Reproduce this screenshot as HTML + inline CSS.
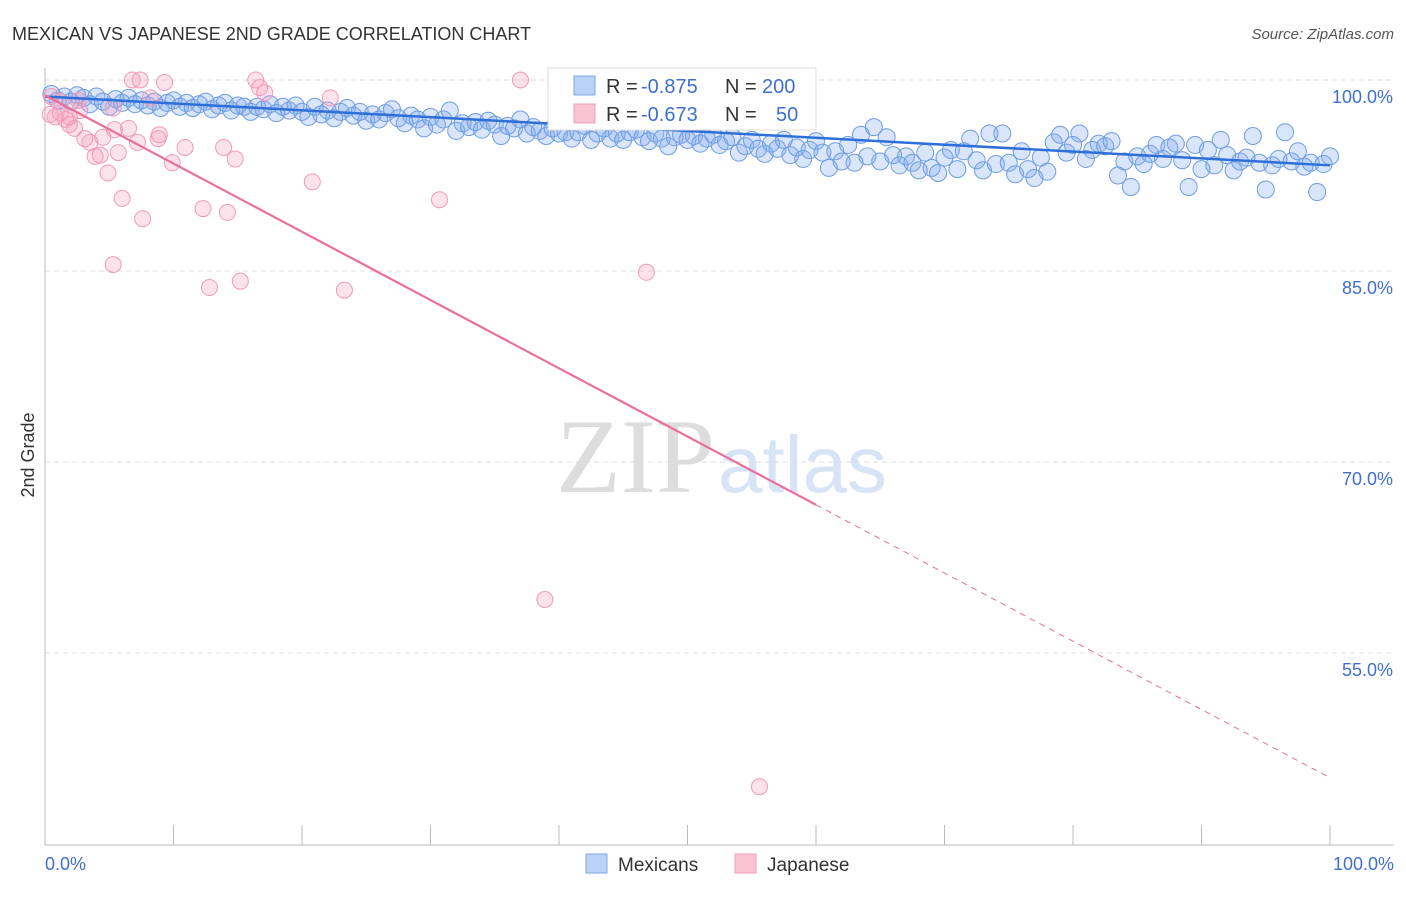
<!DOCTYPE html>
<html><head><meta charset="utf-8"><style>
body{margin:0;background:#fff;font-family:"Liberation Sans",sans-serif}
svg text{font-family:"Liberation Sans",sans-serif}
</style></head><body>
<svg id="chart" width="1406" height="892">
<text x="12" y="40" font-size="18" fill="#333">MEXICAN VS JAPANESE 2ND GRADE CORRELATION CHART</text>
<text x="1394" y="39" font-size="15" fill="#555" font-style="italic" text-anchor="end">Source: ZipAtlas.com</text>
<text x="715" y="492" font-size="106" fill="#ddd" font-family="Liberation Serif" text-anchor="end" style="font-family:'Liberation Serif',serif">ZIP</text>
<text x="718" y="492" font-size="80" fill="#d6e4f5">atlas</text>
<text x="34" y="455" font-size="18" fill="#333" transform="rotate(-90 34 455)" text-anchor="middle">2nd Grade</text>
<g id="grid"></g><g id="axes"></g><g id="pts"></g><g id="lines"></g>
<g>
<rect x="548" y="68" width="268" height="62" fill="#fff" stroke="#ddd"/>
<rect x="574" y="76" width="21" height="19" fill="#b9d2f5" stroke="#7fa8e6"/>
<rect x="574" y="104" width="21" height="19" fill="#f9c3d3" stroke="#f0a0bb"/>
<text x="606" y="93" font-size="20" fill="#333">R =</text>
<text x="641" y="93" font-size="20" fill="#3f6fd0">-0.875</text>
<text x="725" y="93" font-size="20" fill="#333">N =</text>
<text x="762" y="93" font-size="20" fill="#3f6fd0">200</text>
<text x="606" y="121" font-size="20" fill="#333">R =</text>
<text x="641" y="121" font-size="20" fill="#3f6fd0">-0.673</text>
<text x="725" y="121" font-size="20" fill="#333">N =</text>
<text x="776" y="121" font-size="20" fill="#3f6fd0">50</text>
</g>
<g>
<rect x="586" y="854" width="21" height="19" fill="#b9d2f5" stroke="#7fa8e6"/>
<text x="618" y="871" font-size="19" fill="#333">Mexicans</text>
<rect x="735" y="854" width="21" height="19" fill="#f9c3d3" stroke="#f0a0bb"/>
<text x="767" y="871" font-size="19" fill="#333">Japanese</text>
</g>
</svg>
<script>
const yTicks=[100,85,70,55];
const yTickLabels=["100.0%","85.0%","70.0%","55.0%"];
const xTickLabels=["0.0%","100.0%"];
const blueX=[0.5,1,1.5,2,2.5,3,3.5,4,4.5,5,5.5,6,6.5,7,7.5,8,8.5,9,9.5,10,10.5,11,11.5,12,12.5,13,13.5,14,14.5,15,15.5,16,16.5,17,17.5,18,18.5,19,19.5,20,20.5,21,21.5,22,22.5,23,23.5,24,24.5,25,25.5,26,26.5,27,27.5,28,28.5,29,29.5,30,30.5,31,31.5,32,32.5,33,33.5,34,34.5,35,35.5,36,36.5,37,37.5,38,38.5,39,39.5,40,40.5,41,41.5,42,42.5,43,43.5,44,44.5,45,45.5,46,46.5,47,47.5,48,48.5,49,49.5,50,50.5,51,51.5,52,52.5,53,53.5,54,54.5,55,55.5,56,56.5,57,57.5,58,58.5,59,59.5,60,60.5,61,61.5,62,62.5,63,63.5,64,64.5,65,65.5,66,66.5,67,67.5,68,68.5,69,69.5,70,70.5,71,71.5,72,72.5,73,73.5,74,74.5,75,75.5,76,76.5,77,77.5,78,78.5,79,79.5,80,80.5,81,81.5,82,82.5,83,83.5,84,84.5,85,85.5,86,86.5,87,87.5,88,88.5,89,89.5,90,90.5,91,91.5,92,92.5,93,93.5,94,94.5,95,95.5,96,96.5,97,97.5,98,98.5,99,99.5,100];
const blueY=[98.9,98.4,98.7,98.3,98.8,98.6,98.1,98.7,98.3,97.9,98.5,98.2,98.6,98.1,98.4,98.0,98.3,97.8,98.2,98.4,97.9,98.2,97.8,98.1,98.3,97.7,98.0,98.2,97.6,98.0,97.9,97.5,97.9,97.7,98.1,97.4,97.9,97.6,98.0,97.5,97.1,97.9,97.3,97.6,97.0,97.5,97.8,97.2,97.5,96.8,97.3,96.9,97.4,97.7,97.0,96.6,97.2,96.9,96.2,97.1,96.5,96.9,97.6,96.0,96.6,96.3,96.7,96.1,96.8,96.5,95.6,96.4,96.2,96.9,95.8,96.3,96.0,95.6,96.2,95.8,95.9,95.4,95.9,96.4,95.3,95.8,96.2,95.4,95.8,95.3,95.9,96.1,95.5,95.2,95.8,95.4,94.8,95.5,95.7,95.3,95.6,95.0,95.4,95.7,94.9,95.2,95.5,94.3,94.8,95.3,94.6,94.2,95.0,94.6,95.3,94.1,94.7,93.8,94.5,95.2,94.3,93.1,94.4,93.6,94.9,93.5,95.7,94.0,96.3,93.6,95.5,94.1,93.3,94.0,93.5,92.9,94.3,93.1,92.7,93.9,94.5,93.0,94.4,95.4,93.7,92.9,95.8,93.4,95.8,93.5,92.6,94.4,93.0,92.3,93.9,92.8,95.1,95.7,94.3,94.9,95.8,93.8,94.5,95.0,94.8,95.2,92.5,93.6,91.6,94.0,93.4,94.2,94.9,93.8,94.7,95.0,93.7,91.6,94.9,93.0,94.5,93.3,95.3,94.1,92.9,93.6,93.9,95.6,93.5,91.4,93.3,93.8,95.9,93.6,94.4,93.2,93.5,91.2,93.4,94.0];
const pinkX=[0.5,0.8,1.2,1.6,1.9,2.3,2.7,3.1,3.5,3.9,4.3,4.5,4.9,5.3,5.4,5.7,6.0,6.5,6.8,7.2,7.4,7.6,5.3,8.2,8.8,8.9,9.3,9.9,10.9,12.3,12.8,13.9,14.2,14.8,15.2,16.4,16.7,17.1,20.8,22.2,23.3,30.7,37.0,38.9,46.8,55.6,1.9,1.2,0.4,2.6];
const pinkY=[98.7,97.1,97.4,96.9,96.5,96.2,97.6,95.4,95.1,94.0,94.1,95.5,92.7,97.8,96.1,94.3,90.7,96.2,100,95.1,100,89.1,85.5,98.6,95.4,95.7,99.8,93.5,94.7,89.9,83.7,94.7,89.6,93.8,84.2,100,99.4,99.0,92.0,98.6,83.5,90.6,100,59.2,84.9,44.5,97.1,98.3,97.3,98.4];
const blueFit=[98.7,93.3];
const pinkFit=[98.8,45.2];
const NS='http://www.w3.org/2000/svg';
const X=v=>45+v*12.85;
const Y=v=>80+(100-v)*12.733;
function mk(t,a,p){const e=document.createElementNS(NS,t);for(const k in a)e.setAttribute(k,a[k]);p.appendChild(e);return e;}
const grid=document.getElementById('grid'),axes=document.getElementById('axes'),pts=document.getElementById('pts'),lines=document.getElementById('lines');
yTicks.forEach((t,i)=>{
 const l=mk('line',{x1:45,x2:1394,y1:Y(t),y2:Y(t),stroke:'#ddd','stroke-dasharray':'5,4'},grid);
 
 
 const tx=mk('text',{x:1393,y:Y(t)+23,'font-size':18,fill:'#3f6fd0','text-anchor':'end'},axes);
 tx.textContent=yTickLabels[i];
 
 
});
const ax=mk('line',{x1:45,x2:1394,y1:845,y2:845,stroke:'#bbb'},axes);


const ay=mk('line',{x1:45,x2:45,y1:68,y2:845,stroke:'#bbb'},axes);


for(let i=0;i<=10;i++){const t=mk('line',{x1:X(i*10),x2:X(i*10),y1:825,y2:845,stroke:'#bbb'},axes);
 
 }
[[0,'start',45],[100,'end',1394]].forEach((d,i)=>{const t=mk('text',{x:d[2],y:870,'font-size':18,fill:'#3f6fd0','text-anchor':d[1]},axes);t.textContent=xTickLabels[i];
 
 });
const nB=Math.min(blueX.length,blueY.length);
for(let i=0;i<nB;i++){const c=mk('circle',{cx:X(blueX[i]),cy:Y(blueY[i]),r:8.5,fill:'rgba(130,170,235,0.3)',stroke:'#6f9de2','stroke-width':1},pts);
 
 }
const nP=Math.min(pinkX.length,pinkY.length);
for(let i=0;i<nP;i++){const c=mk('circle',{cx:X(pinkX[i]),cy:Y(pinkY[i]),r:8,fill:'rgba(245,160,190,0.3)',stroke:'#f09ab8','stroke-width':1},pts);
 
 }
const bl=mk('line',{x1:X(0),y1:Y(blueFit[0]),x2:X(100),y2:Y(blueFit[1]),stroke:'#2f6fd8','stroke-width':2.5},lines);


const pm=pinkFit[0]+(pinkFit[1]-pinkFit[0])*0.6;
const pl=mk('line',{x1:X(0),y1:Y(pinkFit[0]),x2:X(60),y2:Y(pm),stroke:'#e8709a','stroke-width':2.2},lines);


const pd=mk('line',{x1:X(60),y1:Y(pm),x2:X(100),y2:Y(pinkFit[1]),stroke:'#e8709a','stroke-width':1,'stroke-dasharray':'6,5'},lines);


</script>
</body></html>
